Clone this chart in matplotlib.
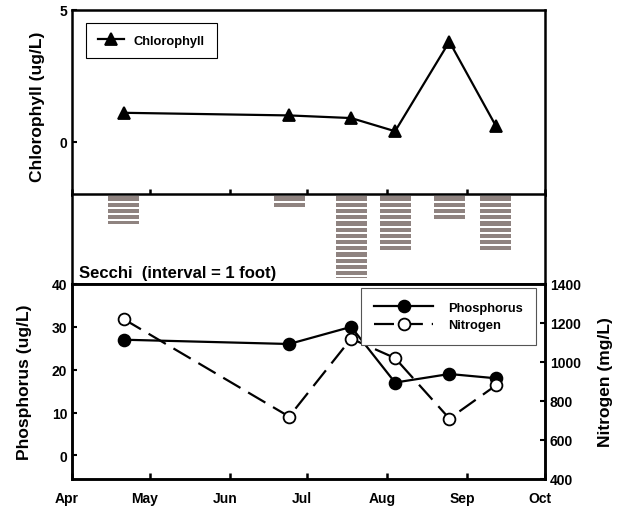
import datetime as dt
import matplotlib
matplotlib.use('Agg')
import matplotlib.pyplot as plt
from matplotlib.transforms import ScaledTranslation

# sampling dates
dates = [dt.date(2009, 4, 21), dt.date(2009, 6, 24), dt.date(2009, 7, 18),
         dt.date(2009, 8, 4), dt.date(2009, 8, 25), dt.date(2009, 9, 12)]
chl = [1.1, 1.0, 0.9, 0.4, 3.8, 0.6]
secchi_ft = [4.7, 2.0, 13.5, 9.0, 4.0, 9.0]
phos = [27, 26, 30, 17, 19, 18]
nitro = [1220, 720, 1120, 1020, 710, 880]
months = ['Apr', 'May', 'Jun', 'Jul', 'Aug', 'Sep', 'Oct']
month_starts = [dt.date(2009, m, 1) for m in range(4, 11)]

plt.rcParams['font.family'] = ['Liberation Sans', 'DejaVu Sans']
plt.rcParams['font.weight'] = 'bold'
plt.rcParams['axes.labelweight'] = 'bold'
plt.rcParams['axes.linewidth'] = 1.8
plt.rcParams['xtick.direction'] = 'in'
plt.rcParams['ytick.direction'] = 'in'
plt.rcParams['xtick.major.width'] = 1.8
plt.rcParams['ytick.major.width'] = 1.5
plt.rcParams['xtick.major.size'] = 4
plt.rcParams['ytick.major.size'] = 3.5

fig = plt.figure(figsize=(6.24, 5.10), dpi=100)
W, H = 624.0, 510.0
x0, x1 = 72 / W, 545 / W


def box(top, bottom):
    return [x0, 1 - bottom / H, x1 - x0, (bottom - top) / H]


ax1 = fig.add_axes(box(11, 195.5))
ax2 = fig.add_axes(box(195.5, 285))
ax3 = fig.add_axes(box(285, 480))

xlim = (month_starts[0], month_starts[-1])
line_kw = dict(color='black', lw=1.6, mew=1.3)

# chlorophyll
ax1.plot(dates, chl, marker='^', ms=9, label='Chlorophyll', **line_kw)
ax1.set_xlim(xlim)
ax1.set_ylim(-2, 5)
ax1.set_yticks([0, 5])
ax1.set_xticks(month_starts)
ax1.tick_params(axis='x', labelbottom=False)
ax1.tick_params(labelsize=10)
ax1.set_ylabel('Chlorophyll (ug/L)', fontsize=12.5)
ax1.yaxis.set_label_coords(-0.058, 0.48)
leg1 = ax1.legend(loc='upper left', bbox_to_anchor=(0.03, 0.93), borderaxespad=0,
                  fontsize=9.3, handlelength=2.0, handletextpad=0.8, borderpad=0.9,
                  fancybox=False, edgecolor='black', framealpha=1)
leg1.get_frame().set_linewidth(0.8)

# secchi stripes, one per foot
for d, depth in zip(dates, secchi_ft):
    k = 0
    while k < depth:
        top = k + 0.32
        bot = min(k + 1, depth)
        if bot > top:
            ax2.bar(d, bot - top, bottom=top, width=12, color='#8f8380', align='center')
        k += 1
ax2.set_xlim(xlim)
ax2.set_ylim(14.4, 0)
ax2.set_xticks([])
ax2.set_yticks([])
ax2.text(0.014, 0.05, 'Secchi  (interval = 1 foot)', transform=ax2.transAxes,
         fontsize=12, ha='left', va='bottom')

# nutrients
ax3.plot(dates, phos, marker='o', ms=8.5, label='Phosphorus', **line_kw)
ax3.set_xlim(xlim)
ax3.set_ylim(-5.5, 40)
ax3.set_yticks([0, 10, 20, 30, 40])
ax3.set_xticks(month_starts)
ax3.set_xticklabels(months)
ax3.tick_params(labelsize=10)
ax3.tick_params(axis='x', pad=9)
ax3.set_ylabel('Phosphorus (ug/L)', fontsize=12.5)
ax3.yaxis.set_label_coords(-0.085, 0.5)

ax4 = ax3.twinx()
ax4.plot(dates, nitro, marker='o', ms=8.5, mfc='white', dashes=(9, 4),
         label='Nitrogen', **line_kw)
ax4.set_ylim(400, 1400)
ax4.set_yticks(range(400, 1401, 200))
ax4.tick_params(labelsize=10)
ax4.set_ylabel('Nitrogen (mg/L)', fontsize=12.5)
ax4.yaxis.set_label_coords(1.112, 0.5)
ax4.set_xlim(xlim)

h1, l1 = ax3.get_legend_handles_labels()
h2, l2 = ax4.get_legend_handles_labels()
leg = ax4.legend(h1 + h2, l1 + l2, loc='upper right', bbox_to_anchor=(0.981, 0.98),
                 borderaxespad=0, fontsize=9.3, handlelength=4.6, handletextpad=1.1,
                 borderpad=1.05, labelspacing=0.45, fancybox=False,
                 edgecolor='#555555', framealpha=1)
leg.get_frame().set_linewidth(0.8)

shift = ScaledTranslation(-5 / 100, 0, fig.dpi_scale_trans)
for lbl in ax3.get_xticklabels():
    lbl.set_transform(lbl.get_transform() + shift)

fig.savefig('out.png', dpi=100)
